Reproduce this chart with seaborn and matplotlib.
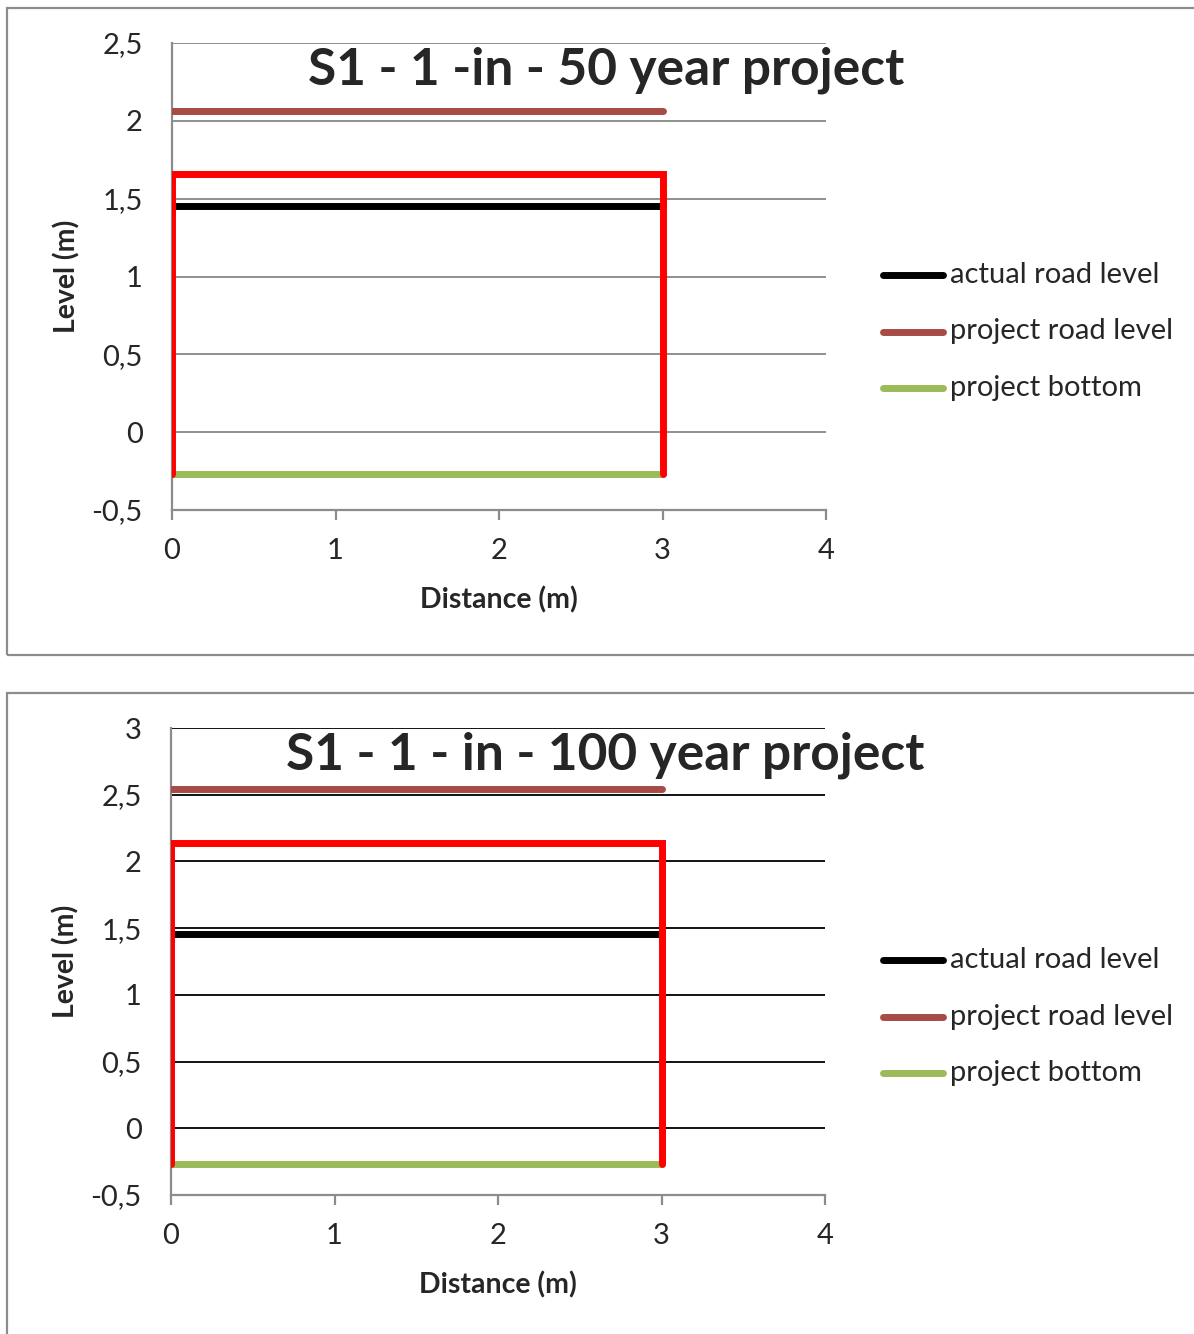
import matplotlib
matplotlib.use("Agg")
import matplotlib.pyplot as plt
from matplotlib.patches import Rectangle
from matplotlib.ticker import FuncFormatter
import pandas as pd
import seaborn as sns

sns.set_theme(style="white")
plt.rcParams["font.family"] = ["Lato", "DejaVu Sans"]

# Scenario data (distance in m, level in m)
distance = [0, 3]
actual_road_level = 1.455
project_road_50 = 2.06
project_road_100 = 2.54
box_top_50 = 1.66
box_top_100 = 2.135
project_bottom = -0.27
x_ticks = [0, 1, 2, 3, 4]
y_ticks_50 = [-0.5, 0, 0.5, 1, 1.5, 2, 2.5]
y_ticks_100 = [-0.5, 0, 0.5, 1, 1.5, 2, 2.5, 3]

titles = ["S1 - 1 -in - 50 year project", "S1 - 1 - in - 100 year project"]
series_names = ["actual road level", "project road level", "project bottom"]
series_colors = ["#000000", "#A84A46", "#9BBB59"]

W, H = 1194, 1334
fig = plt.figure(figsize=(W / 100, H / 100), dpi=100)


def fx(px):
    return px / W


def fy(py):
    return 1 - py / H


def comma(v, _):
    s = f"{v:g}"
    return s.replace(".", ",")


panels = [
    dict(box=(7, 8, 1200, 655), ax=(172, 43, 826, 510), road=project_road_50,
         top=box_top_50, yticks=y_ticks_50, grid="#878787", leg=275, title_y=70, tx=606),
    dict(box=(7, 693, 1200, 1345), ax=(171, 728, 825, 1195), road=project_road_100,
         top=box_top_100, yticks=y_ticks_100, grid="#000000", leg=960, title_y=755, tx=605),
]

LW = 5.0

for i, p in enumerate(panels):
    # chart-area frame
    bx0, by0, bx1, by1 = p["box"]
    fig.patches.append(Rectangle((fx(bx0), fy(by1)), fx(bx1 - bx0), (by1 - by0) / H,
                                 transform=fig.transFigure, fill=False,
                                 edgecolor="#8C8C8C", linewidth=1.6, zorder=0))
    x0, y0, x1, y1 = p["ax"]
    ax = fig.add_axes([fx(x0), fy(y1), fx(x1 - x0), (y1 - y0) / H])

    df = pd.DataFrame({
        "Distance": distance * 3,
        "Level": [actual_road_level] * 2 + [p["road"]] * 2 + [project_bottom] * 2,
        "Series": [series_names[0]] * 2 + [series_names[1]] * 2 + [series_names[2]] * 2,
    })
    sns.lineplot(data=df, x="Distance", y="Level", hue="Series",
                 palette=dict(zip(series_names, series_colors)),
                 linewidth=LW, ax=ax, legend=False, zorder=3,
                 solid_capstyle="round")

    # excavation outline
    ax.plot([0, 0, 3, 3], [project_bottom, p["top"], p["top"], project_bottom],
            color="#FF0000", linewidth=LW, zorder=4, solid_capstyle="round",
            solid_joinstyle="miter")

    ymin, ymax = p["yticks"][0], p["yticks"][-1]
    ax.set_xlim(0, 4)
    ax.set_ylim(ymin, ymax)
    ax.set_xticks(x_ticks)
    ax.set_yticks(p["yticks"])
    ax.yaxis.set_major_formatter(FuncFormatter(comma))
    for yv in p["yticks"][1:]:
        ax.axhline(yv, color=p["grid"], linewidth=1.3, zorder=1)
    for s in ["top", "right"]:
        ax.spines[s].set_visible(False)
    for s in ["left", "bottom"]:
        ax.spines[s].set_color("#8C8C8C")
        ax.spines[s].set_linewidth(1.6)
    ax.tick_params(axis="x", direction="out", length=7, width=1.6, color="#8C8C8C",
                   labelsize=21, pad=13, bottom=True)
    ax.tick_params(axis="y", direction="out", length=0, labelsize=21, pad=21, left=True)
    ax.set_xlabel("Distance (m)", fontsize=20.5, fontweight="bold", labelpad=16)
    ax.set_ylabel("Level (m)", fontsize=20.5, fontweight="bold", labelpad=8)
    ax.set_facecolor("white")

    fig.text(fx(p["tx"]), fy(p["title_y"]), titles[i], ha="center", va="center",
             fontsize=37, fontweight="bold")

    # legend beside the plot
    for k, (name, col) in enumerate(zip(series_names, series_colors)):
        ly = p["leg"] + k * 56.5
        fig.add_artist(plt.Line2D([fx(883), fx(943)], [fy(ly), fy(ly)], color=col,
                                  linewidth=LW, solid_capstyle="round",
                                  transform=fig.transFigure))
        fig.text(fx(950), fy(ly), name, ha="left", va="center", fontsize=21)

fig.savefig("out.png", dpi=100, facecolor="white")
